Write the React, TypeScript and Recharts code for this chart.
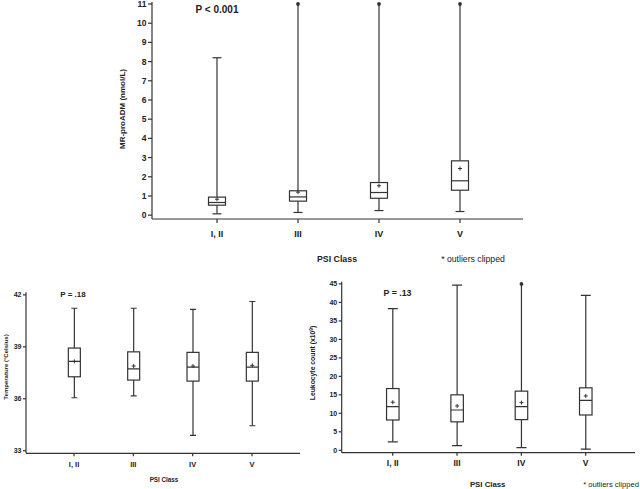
import { ComposedChart, Bar, XAxis, YAxis } from "recharts";

const classes = ["I, II", "III", "IV", "V"];

// MR-proADM (nmol/L)
const admMin = [0.07, 0.14, 0.24, 0.19];
const admQ1 = [0.52, 0.73, 0.88, 1.3];
const admMed = [0.66, 0.95, 1.18, 1.79];
const admQ3 = [0.94, 1.27, 1.7, 2.83];
const admMax = [8.2, 11, 11, 11];
const admMean = [0.83, 1.2, 1.53, 2.43];
const admClipped = [false, true, true, true];
const admTicks = [0, 1, 2, 3, 4, 5, 6, 7, 8, 9, 10, 11];

// Temperature (°C)
const tempMin = [36.06, 36.17, 33.89, 34.44];
const tempQ1 = [37.27, 37.08, 37.02, 37.02];
const tempMed = [38.16, 37.73, 37.83, 37.83];
const tempQ3 = [38.93, 38.71, 38.68, 38.68];
const tempMax = [41.23, 41.23, 41.16, 41.62];
const tempMean = [38.16, 37.89, 37.89, 37.93];
const tempClipped = [false, false, false, false];
const tempTicks = [33, 36, 39, 42];

// Leukocyte count (x10^9)
const wbcMin = [2.3, 1.25, 0.7, 0.3];
const wbcQ1 = [8.2, 7.7, 8.3, 9.55];
const wbcMed = [11.8, 10.9, 11.8, 13.5];
const wbcQ3 = [16.7, 15.0, 16.0, 16.9];
const wbcMax = [38.3, 44.7, 45, 41.9];
const wbcMean = [13.0, 12.0, 12.9, 14.7];
const wbcClipped = [false, false, true, false];
const wbcTicks = [0, 5, 10, 15, 20, 25, 30, 35, 40, 45];

const INK = "#333";

function buildRows(min: number[], q1: number[], med: number[], q3: number[], max: number[], mean: number[], clipped: boolean[]) {
  return classes.map((cls, i) => ({
    cls,
    range: [min[i], max[i]],
    q1: q1[i],
    med: med[i],
    q3: q3[i],
    mean: mean[i],
    clipped: clipped[i],
  }));
}

function BoxShape(props: any) {
  const { x, y, width, height, payload, capW, boxW } = props;
  if (!payload) return null;
  const [lo, hi] = payload.range;
  const top = Math.min(y, y + height);
  const h = Math.abs(height);
  // place inner values on the same linear scale the bar was drawn with
  const px = (v: number) => top + ((hi - v) / (hi - lo)) * h;
  const cx = x + width / 2;
  const yq1 = px(payload.q1);
  const yq3 = px(payload.q3);
  const ym = px(payload.med);
  const ymean = px(payload.mean);
  return (
    <g stroke={INK} strokeWidth={1.2} fill="none">
      <line x1={cx} x2={cx} y1={top} y2={top + h} />
      {payload.clipped ? (
        <circle cx={cx} cy={top} r={1.9} fill={INK} stroke="none" />
      ) : (
        <line x1={cx - capW / 2} x2={cx + capW / 2} y1={top} y2={top} />
      )}
      <line x1={cx - capW / 2} x2={cx + capW / 2} y1={top + h} y2={top + h} />
      <rect x={cx - boxW / 2} y={yq3} width={boxW} height={yq1 - yq3} fill="#fff" />
      <line x1={cx - boxW / 2} x2={cx + boxW / 2} y1={ym} y2={ym} />
      <line x1={cx - 2} x2={cx + 2} y1={ymean} y2={ymean} strokeWidth={1} />
      <line x1={cx} x2={cx} y1={ymean - 2} y2={ymean + 2} strokeWidth={1} />
    </g>
  );
}

function BoxChart(p: any) {
  return (
    <ComposedChart width={p.width} height={p.height} data={p.rows} margin={p.margin}>
      <XAxis
        dataKey="cls"
        height={30}
        padding={p.pad}
        interval={0}
        tickSize={p.tickSize}
        tickMargin={p.xTickMargin}
        stroke={INK}
        strokeWidth={1.2}
        tick={{ fontSize: p.xFont, fontWeight: "bold", fill: "#222" }}
      />
      <YAxis
        type="number"
        domain={p.domain}
        ticks={p.ticks}
        allowDataOverflow
        interval={0}
        width={p.yWidth}
        tickSize={p.tickSize}
        tickMargin={1.5}
        stroke={INK}
        strokeWidth={1.2}
        tick={{ fontSize: p.yFont, fontWeight: "bold", fill: "#222" }}
      />
      <Bar
        dataKey="range"
        barSize={p.boxW}
        isAnimationActive={false}
        shape={(s: any) => <BoxShape {...s} capW={p.capW} boxW={p.boxW} />}
      />
    </ComposedChart>
  );
}

function Txt({ x, y, size, bold, rotate, children }: any) {
  return (
    <div
      style={{
        position: "absolute",
        left: x,
        top: y,
        transform: `translate(-50%, -50%)${rotate ? " rotate(-90deg)" : ""}`,
        fontSize: size,
        fontWeight: bold ? "bold" : "normal",
        whiteSpace: "nowrap",
        color: "#222",
        lineHeight: 1,
      }}
    >
      {children}
    </div>
  );
}

export default function App() {
  const admRows = buildRows(admMin, admQ1, admMed, admQ3, admMax, admMean, admClipped);
  const tempRows = buildRows(tempMin, tempQ1, tempMed, tempQ3, tempMax, tempMean, tempClipped);
  const wbcRows = buildRows(wbcMin, wbcQ1, wbcMed, wbcQ3, wbcMax, wbcMean, wbcClipped);

  return (
    <div
      style={{
        position: "fixed",
        left: 0,
        top: 0,
        width: 640,
        height: 489,
        background: "#fff",
        fontFamily: "'Liberation Sans', Arial, sans-serif",
        overflow: "hidden",
      }}
    >
      <div style={{ position: "absolute", left: 0, top: 0 }}>
        <BoxChart
          rows={admRows}
          width={640}
          height={270}
          margin={{ top: 2.1, right: 117, bottom: 21, left: 122 }}
          yWidth={30}
          pad={{ left: 24.5, right: 22.5 }}
          domain={[-0.2, 11.1]}
          ticks={admTicks}
          tickSize={4}
          xTickMargin={8}
          xFont={9}
          yFont={8.5}
          boxW={17}
          capW={9}
        />
      </div>
      <div style={{ position: "absolute", left: 0, top: 280 }}>
        <BoxChart
          rows={tempRows}
          width={320}
          height={209}
          margin={{ top: 12.3, right: 20, bottom: 5.7, left: 6 }}
          yWidth={20}
          pad={{ left: 18.35, right: 18.35 }}
          domain={[32.85, 42.15]}
          ticks={tempTicks}
          tickSize={3}
          xTickMargin={5}
          xFont={7.5}
          yFont={7}
          boxW={12}
          capW={6}
        />
      </div>
      <div style={{ position: "absolute", left: 320, top: 270 }}>
        <BoxChart
          rows={wbcRows}
          width={320}
          height={219}
          margin={{ top: 11.7, right: 5, bottom: 6.3, left: 5.7 }}
          yWidth={16}
          pad={{ left: 18.85, right: 17.15 }}
          domain={[-0.65, 45.6]}
          ticks={wbcTicks}
          tickSize={3}
          xTickMargin={4.5}
          xFont={8.5}
          yFont={7}
          boxW={12.5}
          capW={10}
        />
      </div>

      <Txt x={217} y={10} size={10} bold>P &lt; 0.001</Txt>
      <Txt x={122.7} y={109} size={8} bold rotate>MR-proADM (nmol/L)</Txt>
      <Txt x={337} y={259} size={8.8} bold>PSI Class</Txt>
      <Txt x={473} y={259} size={8.7}>* outliers clipped</Txt>

      <Txt x={73} y={295} size={8} bold>P = .18</Txt>
      <Txt x={6} y={367} size={6} bold rotate>Temperature (°Celsius)</Txt>
      <Txt x={164} y={480} size={6.3} bold>PSI Class</Txt>

      <Txt x={397.5} y={292.7} size={8.8} bold>P = .13</Txt>
      <Txt x={313} y={363} size={6.8} bold rotate>
        Leukocyte count (x10
        <span style={{ fontSize: "0.7em", position: "relative", top: "-0.45em" }}>9</span>)
      </Txt>
      <Txt x={487.7} y={485} size={7.8} bold>PSI Class</Txt>
      <Txt x={611} y={485} size={7.6}>* outliers clipped</Txt>
    </div>
  );
}
